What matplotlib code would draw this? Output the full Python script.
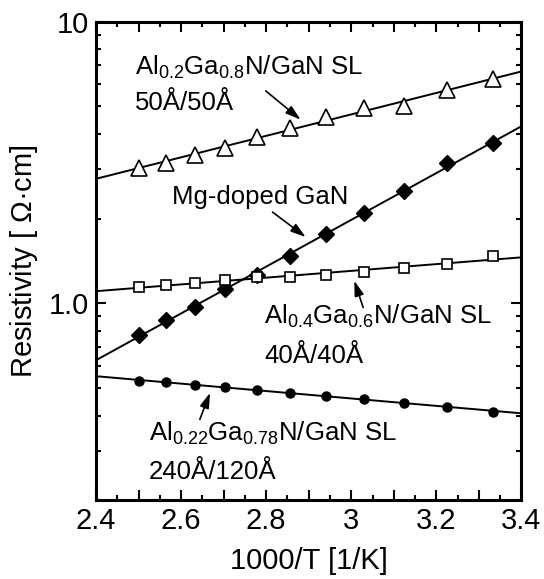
import numpy as np
import matplotlib
matplotlib.use('Agg')
from matplotlib import pyplot as plt
from matplotlib.ticker import FixedLocator, FixedFormatter, LogLocator, NullFormatter

plt.rcParams['font.family'] = ['Liberation Sans', 'DejaVu Sans']
plt.rcParams['mathtext.fontset'] = 'custom'
plt.rcParams['mathtext.rm'] = 'Liberation Sans'
plt.rcParams['mathtext.it'] = 'Liberation Sans:italic'
plt.rcParams['mathtext.bf'] = 'Liberation Sans:bold'

# 1000/T for T = 400 ... 300 K
inv_t = [2.500, 2.564, 2.632, 2.703, 2.778, 2.857, 2.941, 3.030, 3.125, 3.226, 3.333]

rho_sl02 = [3.02, 3.16, 3.36, 3.57, 3.91, 4.21, 4.58, 4.93, 5.00, 5.70, 6.27]
rho_mg = [0.774, 0.875, 0.97, 1.13, 1.26, 1.48, 1.76, 2.10, 2.51, 3.14, 3.72]
rho_sl04 = [1.14, 1.166, 1.185, 1.21, 1.24, 1.24, 1.26, 1.29, 1.34, 1.38, 1.48]
rho_sl022 = [0.532, 0.526, 0.514, 0.504, 0.493, 0.483, 0.468, 0.460, 0.443, 0.430, 0.413]

xticks = [2.4, 2.5, 2.6, 2.7, 2.8, 2.9, 3.0, 3.1, 3.2, 3.3, 3.4]
xtick_labels = ['2.4', '', '2.6', '', '2.8', '', '3', '', '3.2', '', '3.4']
yticks = [1.0, 10.0]
ytick_labels = ['1.0', '10']

fig = plt.figure(figsize=(5.44, 5.79), dpi=100)
ax = fig.add_axes([0.1765, 0.1356, 0.782, 0.827])

xfit = np.array([2.4, 3.4])
series = [
    (rho_sl02, dict(marker='^', ms=11, mfc='white', mec='k', mew=1.2)),
    (rho_mg, dict(marker='D', ms=8.5, mfc='k', mec='k', mew=1.0)),
    (rho_sl04, dict(marker='s', ms=7.5, mfc='white', mec='k', mew=1.2)),
    (rho_sl022, dict(marker='o', ms=6.5, mfc='k', mec='k', mew=1.0)),
]
for rho, style in series:
    # Arrhenius fit line across the full axis
    p = np.polyfit(inv_t, np.log10(rho), 1)
    ax.plot(xfit, 10 ** np.polyval(p, xfit), color='k', lw=1.4, zorder=2)
    ax.plot(inv_t, rho, ls='none', zorder=3, **style)

ax.set_yscale('log')
ax.set_xlim(2.4, 3.4)
ax.set_ylim(0.2, 10)

ax.xaxis.set_major_locator(FixedLocator(xticks))
ax.xaxis.set_major_formatter(FixedFormatter(xtick_labels))
ax.xaxis.set_minor_locator(FixedLocator([x + 0.05 for x in xticks[:-1]]))
ax.yaxis.set_major_locator(FixedLocator(yticks))
ax.yaxis.set_major_formatter(FixedFormatter(ytick_labels))
ax.yaxis.set_minor_locator(LogLocator(base=10, subs=np.arange(2, 10)))
ax.yaxis.set_minor_formatter(NullFormatter())

ax.tick_params(which='both', direction='in', top=True, right=True, width=1.5)
ax.tick_params(which='major', length=7, labelsize=21, pad=5)
ax.tick_params(which='minor', length=3.5)
for s in ax.spines.values():
    s.set_linewidth(2.2)

ax.set_xlabel('1000/T [1/K]', fontsize=21, labelpad=8)
ax.set_ylabel('Resistivity [ $\\mathregular{\\Omega}$·cm]', fontsize=21, labelpad=6)

tfs = 18.5
arr = dict(arrowstyle='-|>,head_length=0.65,head_width=0.2', color='k', lw=1.2,
           mutation_scale=14, shrinkA=0, shrinkB=0)

ax.text(2.492, 6.5, 'Al$\\mathregular{_{0.2}}$Ga$\\mathregular{_{0.8}}$N/GaN SL', fontsize=tfs)
ax.text(2.492, 4.85, '50Å/50Å', fontsize=tfs)
ax.annotate('', xy=(2.881, 4.49), xytext=(2.799, 5.68), arrowprops=arr)

ax.text(2.579, 2.26, 'Mg-doped GaN', fontsize=tfs)
ax.annotate('', xy=(2.893, 1.72), xytext=(2.815, 2.11), arrowprops=arr)

ax.text(2.795, 0.845, 'Al$\\mathregular{_{0.4}}$Ga$\\mathregular{_{0.6}}$N/GaN SL', fontsize=tfs)
ax.text(2.795, 0.617, '40Å/40Å', fontsize=tfs)
ax.annotate('', xy=(3.007, 1.205), xytext=(3.028, 0.968), arrowprops=arr)

ax.text(2.525, 0.3246, 'Al$\\mathregular{_{0.22}}$Ga$\\mathregular{_{0.78}}$N/GaN SL', fontsize=tfs)
ax.text(2.525, 0.2377, '240Å/120Å', fontsize=tfs)
ax.annotate('', xy=(2.668, 0.482), xytext=(2.644, 0.388), arrowprops=arr)

plt.savefig('out.png', dpi=100)
